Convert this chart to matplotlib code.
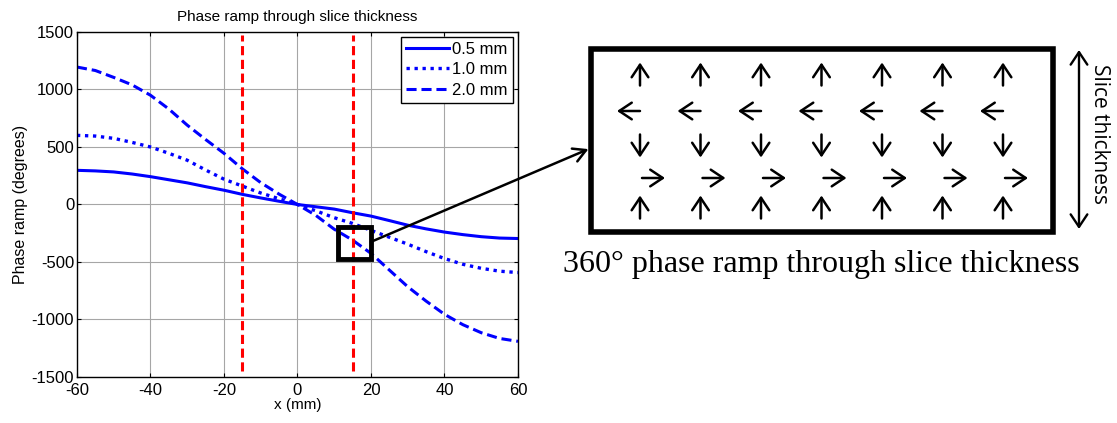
import matplotlib
matplotlib.use("Agg")
import matplotlib.pyplot as plt
from matplotlib.patches import Rectangle, ConnectionPatch

plt.rcParams['font.family'] = ['Liberation Sans', 'DejaVu Sans']
plt.rcParams['axes.unicode_minus'] = False

# phase ramp curves
x_mm = [-60, -55, -50, -45, -40, -35, -30, -25, -20, -15, -10, -5, 0,
        5, 10, 15, 20, 25, 30, 35, 40, 45, 50, 55, 60]
ramp_05 = [297, 292, 283, 265, 242, 215, 188, 155, 124, 88, 57, 28, 0,
           -20, -40, -72, -101, -140, -180, -212, -240, -262, -280, -292, -296]
ramp_10 = [601, 595, 575, 540, 500, 445, 385, 300, 220, 160, 100, 50, 0,
           -55, -115, -165, -225, -285, -345, -410, -470, -520, -555, -580, -592]
ramp_20 = [1195, 1165, 1105, 1040, 950, 830, 690, 565, 445, 310, 190, 90, 0,
           -95, -215, -310, -425, -570, -715, -840, -955, -1045, -1115, -1165, -1190]
labels = ['0.5 mm', '1.0 mm', '2.0 mm']
slice_edges = [-15, 15]
zoom_box = (11, -470, 9, 270)  # x, y, width, height in data units

# spin directions of the schematic, one per row
row_dirs = ['up', 'left', 'down', 'right', 'up']
n_cols = 7

fig = plt.figure(figsize=(11.17, 4.23), dpi=100)
ax = fig.add_axes([0.0689, 0.1088, 0.3948, 0.8156])

ax.plot(x_mm, ramp_05, color='b', lw=2.2, label=labels[0])
ax.plot(x_mm, ramp_10, color='b', lw=2.4, linestyle=(0, (1, 1.4)), label=labels[1])
ax.plot(x_mm, ramp_20, color='b', lw=2.2, linestyle=(0, (3.3, 1.6)), label=labels[2])
for xe in slice_edges:
    ax.plot([xe, xe], [-1450, 1470], color='r', lw=2.2, linestyle=(0, (3, 1.5)))
ax.add_patch(Rectangle(zoom_box[:2], zoom_box[2], zoom_box[3], fill=False,
                       edgecolor='k', lw=3.5, zorder=5))

ax.set_xlim(-60, 60)
ax.set_ylim(-1500, 1500)
ax.set_xticks(range(-60, 61, 20))
ax.set_yticks(range(-1500, 1501, 500))
ax.grid(True, color='#a6a6a6', lw=0.8)
ax.tick_params(direction='in', top=True, right=True, length=3, labelsize=12)
ax.tick_params(axis='x', pad=4)
ax.tick_params(axis='y', pad=2)
ax.set_title('Phase ramp through slice thickness', fontsize=11, pad=8)
ax.set_xlabel('x (mm)', fontsize=11, labelpad=0)
ax.set_ylabel('Phase ramp (degrees)', fontsize=11.5, labelpad=3)
for s in ax.spines.values():
    s.set_linewidth(1.0)
leg = ax.legend(loc='upper right', fontsize=12, handlelength=2.6, fancybox=False,
                edgecolor='k', framealpha=1, borderpad=0.3, labelspacing=0.32,
                handletextpad=0.2, borderaxespad=0.3)
leg.get_frame().set_linewidth(1.0)

# schematic overlay in pixel coordinates
ov = fig.add_axes([0, 0, 1, 1], facecolor='none')
ov.set_xlim(0, 1117)
ov.set_ylim(423, 0)
ov.axis('off')

ov.add_patch(Rectangle((591, 49), 462, 183, fill=False, edgecolor='k', lw=4))

col_x0, col_dx = 640, 60.5
row_y = [74, 111, 146, 178, 207]
alen = 23
astyle = '->,head_length=0.9,head_width=0.6'
for ri, d in enumerate(row_dirs):
    for ci in range(n_cols):
        cx = col_x0 + ci * col_dx
        cy = row_y[ri]
        if d == 'up':
            tail, tip = (cx, cy + alen / 2), (cx, cy - alen / 2)
        elif d == 'down':
            tail, tip = (cx, cy - alen / 2), (cx, cy + alen / 2)
        elif d == 'left':
            tail, tip = (cx, cy), (cx - alen, cy)
        else:
            tail, tip = (cx + 2, cy), (cx + 2 + alen, cy)
        ov.annotate('', xy=tip, xytext=tail,
                    arrowprops=dict(arrowstyle=astyle, lw=1.8, color='k',
                                    shrinkA=0, shrinkB=0))

ov.annotate('', xy=(1079, 50), xytext=(1079, 229),
            arrowprops=dict(arrowstyle='<->,head_length=0.9,head_width=0.6',
                            lw=1.7, color='k', shrinkA=0, shrinkB=0))
ov.text(1100, 134, 'Slice thickness', rotation=-90, ha='center', va='center',
        fontsize=15, family=['Open Sans', 'DejaVu Sans'])
ov.text(563, 272, '360° phase ramp through slice thickness', ha='left', va='baseline',
        fontsize=23, family=['Liberation Serif', 'DejaVu Serif'])

con = ConnectionPatch(xyA=(zoom_box[0] + zoom_box[2], -325), coordsA=ax.transData,
                      xyB=(591, 148), coordsB=ov.transData,
                      arrowstyle='->,head_length=0.9,head_width=0.5', lw=1.8,
                      color='k', shrinkA=0, shrinkB=2, zorder=10)
fig.add_artist(con)

fig.savefig('out.png', dpi=100)
